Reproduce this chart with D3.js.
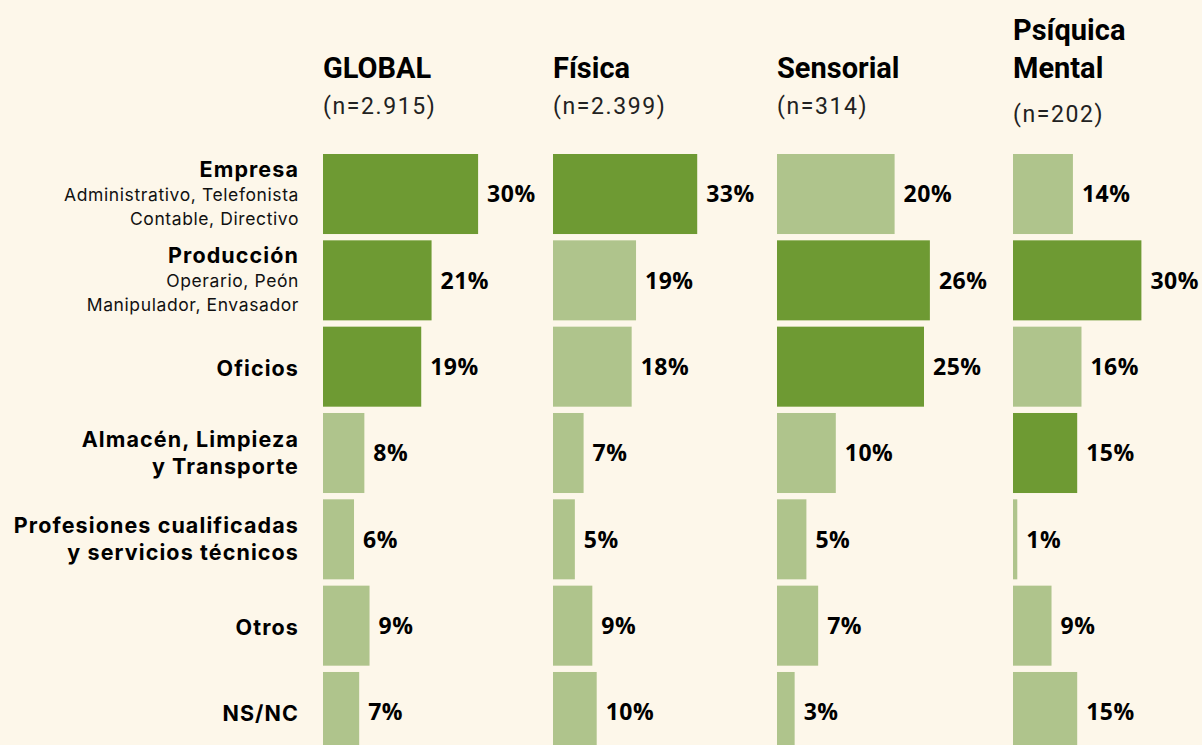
<!DOCTYPE html>
<html>
<head>
<meta charset="utf-8">
<script src="https://cdn.jsdelivr.net/npm/d3@7/dist/d3.min.js"></script>
<style>
  html, body { margin: 0; padding: 0; background: #fdf7ea; }
  svg { display: block; }
  .head { font-family: "Roboto", sans-serif; font-weight: bold; font-size: 29px; fill: #000; }
  .nlab { font-family: "Roboto", sans-serif; font-size: 23px; letter-spacing: 1.6px; fill: #222; }
  .cat { font-family: "Inter", "Open Sans", sans-serif; font-weight: bold; font-size: 21.5px; letter-spacing: 1.1px; fill: #000; }
  .sub { font-family: "Inter", "Open Sans", sans-serif; font-size: 17.5px; letter-spacing: 0.6px; fill: #111; }
  .val { font-family: "Open Sans", "Roboto", sans-serif; font-weight: bold; font-size: 23px; letter-spacing: 0.5px; fill: #000; }
</style>
</head>
<body>
<div id="chart"></div>
<script>
var categories = ["Empresa", "Producción", "Oficios", "Almacén, Limpieza", "Profesiones cualificadas", "Otros", "NS/NC"];
var cat_second = ["", "", "", "y Transporte", "y servicios técnicos", "", ""];
var cat_sub = [
	["Administrativo, Telefonista", "Contable, Directivo"],
	["Operario, Peón", "Manipulador, Envasador"],
	[], [], [], [], []
];

var panel_titles = [["GLOBAL"], ["Física"], ["Sensorial"], ["Psíquica", "Mental"]];
var panel_n = ["(n=2.915)", "(n=2.399)", "(n=314)", "(n=202)"];

var global_vals = [30, 21, 19, 8, 6, 9, 7];
var fisica_vals = [33, 19, 18, 7, 5, 9, 10];
var sensorial_vals = [20, 26, 25, 10, 5, 7, 3];
var psiquica_vals = [14, 30, 16, 15, 1, 9, 15];

var global_hi = [1, 1, 1, 0, 0, 0, 0];
var fisica_hi = [1, 0, 0, 0, 0, 0, 0];
var sensorial_hi = [0, 1, 1, 0, 0, 0, 0];
var psiquica_hi = [0, 1, 0, 1, 0, 0, 0];

var ww = 1202, hh = 745;
var dark = "#6e9a33", light = "#afc48c";

// each panel has its own px-per-percent, as in the original
var panels = [
	{vals: global_vals, hi: global_hi, x0: 323, k: 5.17},
	{vals: fisica_vals, hi: fisica_hi, x0: 553, k: 4.37},
	{vals: sensorial_vals, hi: sensorial_hi, x0: 777, k: 5.88},
	{vals: psiquica_vals, hi: psiquica_hi, x0: 1013, k: 4.28}
];

var svg = d3.select("#chart").append("svg")
		.attr("width", ww)
		.attr("height", hh);

svg.append("rect")
		.attr("width", ww)
		.attr("height", hh)
		.attr("fill", "#fdf7ea");

var y = d3.scaleBand()
		.domain(categories)
		.range([154, 154 + 86.33 * 6.927])
		.paddingInner(0.073)
		.paddingOuter(0);

// category labels
var cat_g = svg.selectAll(".cat-g")
		.data(categories)
	.enter().append("g")
		.attr("class", "cat-g")
		.attr("transform", function(d){ return "translate(299," + (y(d) + y.bandwidth() / 2) + ")"; });

cat_g.each(function(d, i){
	var g = d3.select(this);
	var lines = [{t: d, c: "cat"}];
	if (cat_second[i]) lines.push({t: cat_second[i], c: "cat"});
	cat_sub[i].forEach(function(s){ lines.push({t: s, c: "sub"}); });
	var offs;
	if (lines.length == 3) offs = [-17, 7, 31];
	else if (lines.length == 2) offs = [-6, 21];
	else offs = [9];
	lines.forEach(function(l, j){
		g.append("text")
				.attr("class", l.c)
				.attr("text-anchor", "end")
				.attr("y", offs[j])
				.text(l.t);
	});
});

panels.forEach(function(p, pi){
	var x = d3.scaleLinear()
			.domain([0, 100])
			.range([p.x0, p.x0 + p.k * 100]);

	var g = svg.append("g").attr("class", "panel");

	// headers
	var t = panel_titles[pi];
	t.forEach(function(s, j){
		g.append("text")
				.attr("class", "head")
				.attr("x", p.x0)
				.attr("y", 78 - (t.length - 1 - j) * 38)
				.text(s);
	});
	g.append("text")
			.attr("class", "nlab")
			.attr("x", p.x0)
			.attr("y", t.length > 1 ? 122 : 114)
			.text(panel_n[pi]);

	g.selectAll(".bar")
			.data(p.vals)
		.enter().append("rect")
			.attr("class", "bar")
			.attr("x", x(0))
			.attr("y", function(d, i){ return y(categories[i]); })
			.attr("width", function(d){ return x(d) - x(0); })
			.attr("height", y.bandwidth())
			.attr("fill", function(d, i){ return p.hi[i] ? dark : light; });

	g.selectAll(".val")
			.data(p.vals)
		.enter().append("text")
			.attr("class", "val")
			.attr("x", function(d){ return x(d) + 9; })
			.attr("y", function(d, i){ return y(categories[i]) + y.bandwidth() / 2; })
			.attr("dy", ".36em")
			.text(function(d){ return d + "%"; });
});
</script>
</body>
</html>
